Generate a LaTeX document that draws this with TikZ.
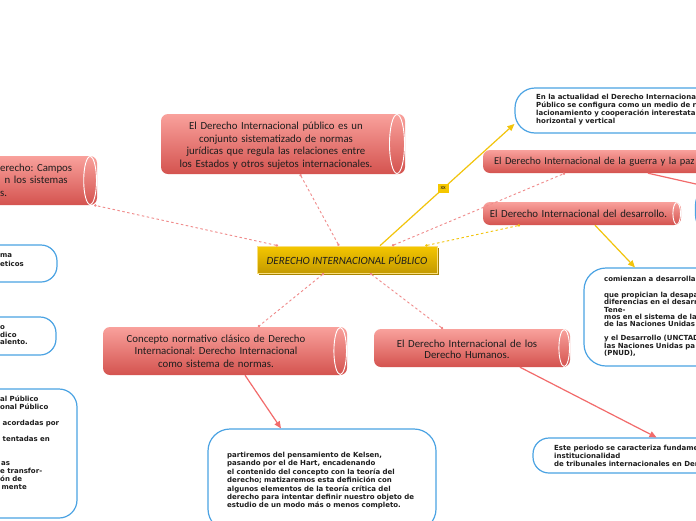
\documentclass[tikz,border=0pt]{standalone}
\usepackage{fontspec}
\setmainfont{Carlito}
\newfontfamily\wfont{DejaVu Sans}
\usetikzlibrary{calc,arrows.meta,shadows}
\frenchspacing
\definecolor{redtop}{HTML}{F9A19C}
\definecolor{redbot}{HTML}{D4534F}
\definecolor{goldtop}{HTML}{F5C700}
\definecolor{goldbot}{HTML}{C49A00}
\definecolor{goldedge}{HTML}{F8DE80}
\definecolor{goldshadow}{HTML}{A88300}
\definecolor{bluebd}{HTML}{4BA3E3}
\definecolor{linkred}{HTML}{F26B6B}
\definecolor{dashred}{HTML}{F08A8A}
\definecolor{linkyel}{HTML}{F2C40C}
\definecolor{txt}{HTML}{1E1E1E}
\tikzset{
  cylcap/.style={path picture={\draw[white,line width=0.9pt] let \p1=(path picture bounding box.north east), \p2=(path picture bounding box.south east) in ({\x1-0.1*(\y1-\y2)-2pt},{0.5*(\y1+\y2)}) ellipse [x radius={0.1*(\y1-\y2)+1.5pt}, y radius={0.5*(\y1-\y2)-0.5pt}];}},
  redcyl/.style={rectangle, rounded corners=7pt, top color=redtop, bottom color=redbot, draw=none, inner sep=0pt, text=txt, font=\fontsize{10.8}{12.5}\selectfont, cylcap},
  cylc/.style 2 args={align=center, text width=#1, execute at begin node={\leftskip=0pt plus 1fil\rightskip=#2 plus 1fil\parfillskip=0pt\relax}},
  gold/.style={rectangle, minimum width=180pt, minimum height=27pt, top color=goldtop, bottom color=goldbot, draw=goldedge, line width=0.6pt, drop shadow={shadow xshift=2pt, shadow yshift=-2pt, fill=goldshadow, opacity=1}, font=\itshape\fontsize{11}{13}\selectfont, text=txt},
  wbox/.style={rectangle, draw=bluebd, line width=1.2pt, fill=white},
  wtext/.style={anchor=base west, inner sep=0pt, align=left, text width=300pt, font=\wfont\bfseries\fontsize{7}{8}\selectfont, text=txt},
  dashlink/.style={draw=dashred, line width=0.9pt, dash pattern=on 2.5pt off 2.5pt, {Circle[length=2.4pt]}-{Circle[length=2.4pt]}},
  dashyel/.style={draw=linkyel, line width=0.9pt, dash pattern=on 2.5pt off 2.5pt, {Circle[length=2.4pt]}-{Circle[length=2.4pt]}},
  redline/.style={draw=linkred, line width=1.2pt, -{Triangle[length=7pt,width=6pt]}},
  yelline/.style={draw=linkyel, line width=1.2pt, -{Triangle[length=7pt,width=6pt]}},
  xxlab/.style={fill=goldtop, inner sep=0.8pt, minimum width=11pt, minimum height=8.5pt, font=\fontsize{6}{6}\selectfont, text=txt}
}
\begin{document}
\begin{tikzpicture}[x=1pt,y=-1pt]
\useasboundingbox (0,0) rectangle (696,520);
\fill[white] (0,0) rectangle (696,520);

% red cylinders
\node[redcyl, cylc={244pt}{14pt}, minimum height=60pt] (topcyl) at (283,144) {\rule{0pt}{11pt}El Derecho Internacional público es un\\conjunto sistematizado de normas\\jurídicas que regula las relaciones entre\\los Estados y otros sujetos internacionales.};
\node[redcyl, minimum width=200pt, minimum height=49pt] (leftcyl) at (-3,180.5) {};
\node[anchor=base west, inner sep=0pt, align=left, text width=200pt, text=txt, font=\fontsize{10.8}{12.5}\selectfont] (leftcylt) at (0,171) {erecho: Campos\\\hspace*{4.5pt}n los sistemas\\s.};
\node[redcyl, cylc={244pt}{18pt}, minimum height=48pt] (concept) at (225,351) {Concepto normativo clásico de Derecho\\Internacional: Derecho Internacional\\como sistema de normas.};
\node[redcyl, cylc={196pt}{10pt}, minimum height=38pt, font=\fontsize{10.8}{11.5}\selectfont] (dh) at (472,348) {\rule{0pt}{10pt}El Derecho Internacional de los\\Derecho Humanos.};
\node[redcyl, align=left, text width=250pt, inner xsep=11pt, minimum height=23pt, font=\fontsize{10.5}{12}\selectfont] (guerra) at (619,161.5) {El Derecho Internacional de la guerra y la paz};
\node[redcyl, cylc={198pt}{7pt}, minimum height=23pt] (desa) at (582,213.5) {El Derecho Internacional del desarrollo.};

% central topic
\node[gold] (center) at (347,259.5) {DERECHO INTERNACIONAL PÚBLICO};

% white boxes
\node[wbox, rounded corners=20pt, minimum width=206pt, minimum height=50pt] (rightbox) at (798.5,210) {};

\node[wbox, rounded corners=20pt, minimum width=242pt, minimum height=45pt] (wtr) at (636,110.5) {};
\node[wtext] (wtrt) at (536,99.5) {En la actualidad el Derecho Internaciona\\Público se configura como un medio de r\\lacionamiento y cooperación interestatal\\horizontal y vertical};

\node[wbox, rounded corners=22pt, minimum width=216pt, minimum height=98pt] (wcom) at (692,317) {};
\node[wtext, font=\wfont\bfseries\fontsize{7}{7.2}\selectfont] (wcomt) at (604,281) {comienzan a desarrolla\\[9.5pt]que propician la desapa\\diferencias en el desarr\\Tene-\\mos en el sistema de la\\de las Naciones Unidas\\[7.2pt]y el Desarrollo (UNCTAD\\las Naciones Unidas pa\\(PNUD),};

\node[wbox, rounded corners=16pt, minimum width=267pt, minimum height=35pt] (wbr) at (666.5,455.5) {};
\node[wtext] (wbrt) at (554,450.5) {Este periodo se caracteriza fundame\\institucionalidad\\de tribunales internacionales en Der};

\node[wbox, rounded corners=22pt, minimum width=228pt, minimum height=102pt] (wbc) at (322,480) {};
\node[wtext, font=\wfont\bfseries\fontsize{7}{8.4}\selectfont] (wbct) at (227,457.5) {partiremos del pensamiento de Kelsen,\\pasando por el de Hart, encadenando\\el contenido del concepto con la teoría del\\derecho; matizaremos esta definición con\\algunos elementos de la teoría crítica del\\derecho para intentar definir nuestro objeto de\\estudio de un modo más o menos completo.};

\node[wbox, rounded corners=16pt, minimum width=117pt, minimum height=37pt] (wl1) at (-1.5,263.5) {};
\node[wtext, font=\wfont\bfseries\fontsize{7}{9}\selectfont] (wl1t) at (0,257.5) {ma\\eticos};

\node[wbox, rounded corners=16pt, minimum width=116pt, minimum height=38pt] (wl2) at (-2,336) {};
\node[wtext, font=\wfont\bfseries\fontsize{7}{7.5}\selectfont] (wl2t) at (0,329.5) {o\\dico\\alento.};

\node[wbox, rounded corners=18pt, minimum width=177pt, minimum height=129pt] (wl3) at (-11.5,453.5) {};
\node[wtext] (wl3t) at (0,401) {al Público\\onal Público\\[8pt]\hspace*{2.5pt}acordadas por\\[8pt]\hspace*{2.5pt}tentadas en\\[16pt]\hspace*{1pt}as\\e transfor-\\ón de\\\hspace*{1.5pt}mente};

% connectors
\draw[dashlink] ([xshift=-8pt]center.north) -- ([xshift=17pt]topcyl.south);
\draw[dashlink] ([xshift=-69pt]center.north) -- ([xshift=-3pt]leftcyl.south east);
\draw[dashlink] ([xshift=-23pt]center.south) -- ([xshift=33pt]concept.north);
\draw[dashlink] ([xshift=23pt]center.south) -- ([xshift=-29pt]dh.north);
\draw[dashlink] ([xshift=45pt]center.north) -- ([xshift=-54pt]guerra.south);
\draw[dashyel] ([xshift=-12pt]center.north east) -- ([xshift=-62pt]desa.south);
\draw[yelline] ([xshift=33pt]center.north) -- node[xxlab, pos=0.47] (xx) {xx} ([yshift=-13.5pt]wtr.west);
\draw[yelline] ([xshift=13pt]desa.south) -- ([xshift=-57pt]wcom.north);
\draw[redline] ([xshift=29pt]guerra.south) -- ([xshift=-92pt,yshift=-2pt]rightbox.north);
\draw[redline] ([xshift=20pt]concept.south) -- ([xshift=-41pt]wbc.north);
\draw[redline] ([xshift=48pt]dh.south) -- ([xshift=-10pt]wbr.north);
\end{tikzpicture}
\end{document}
